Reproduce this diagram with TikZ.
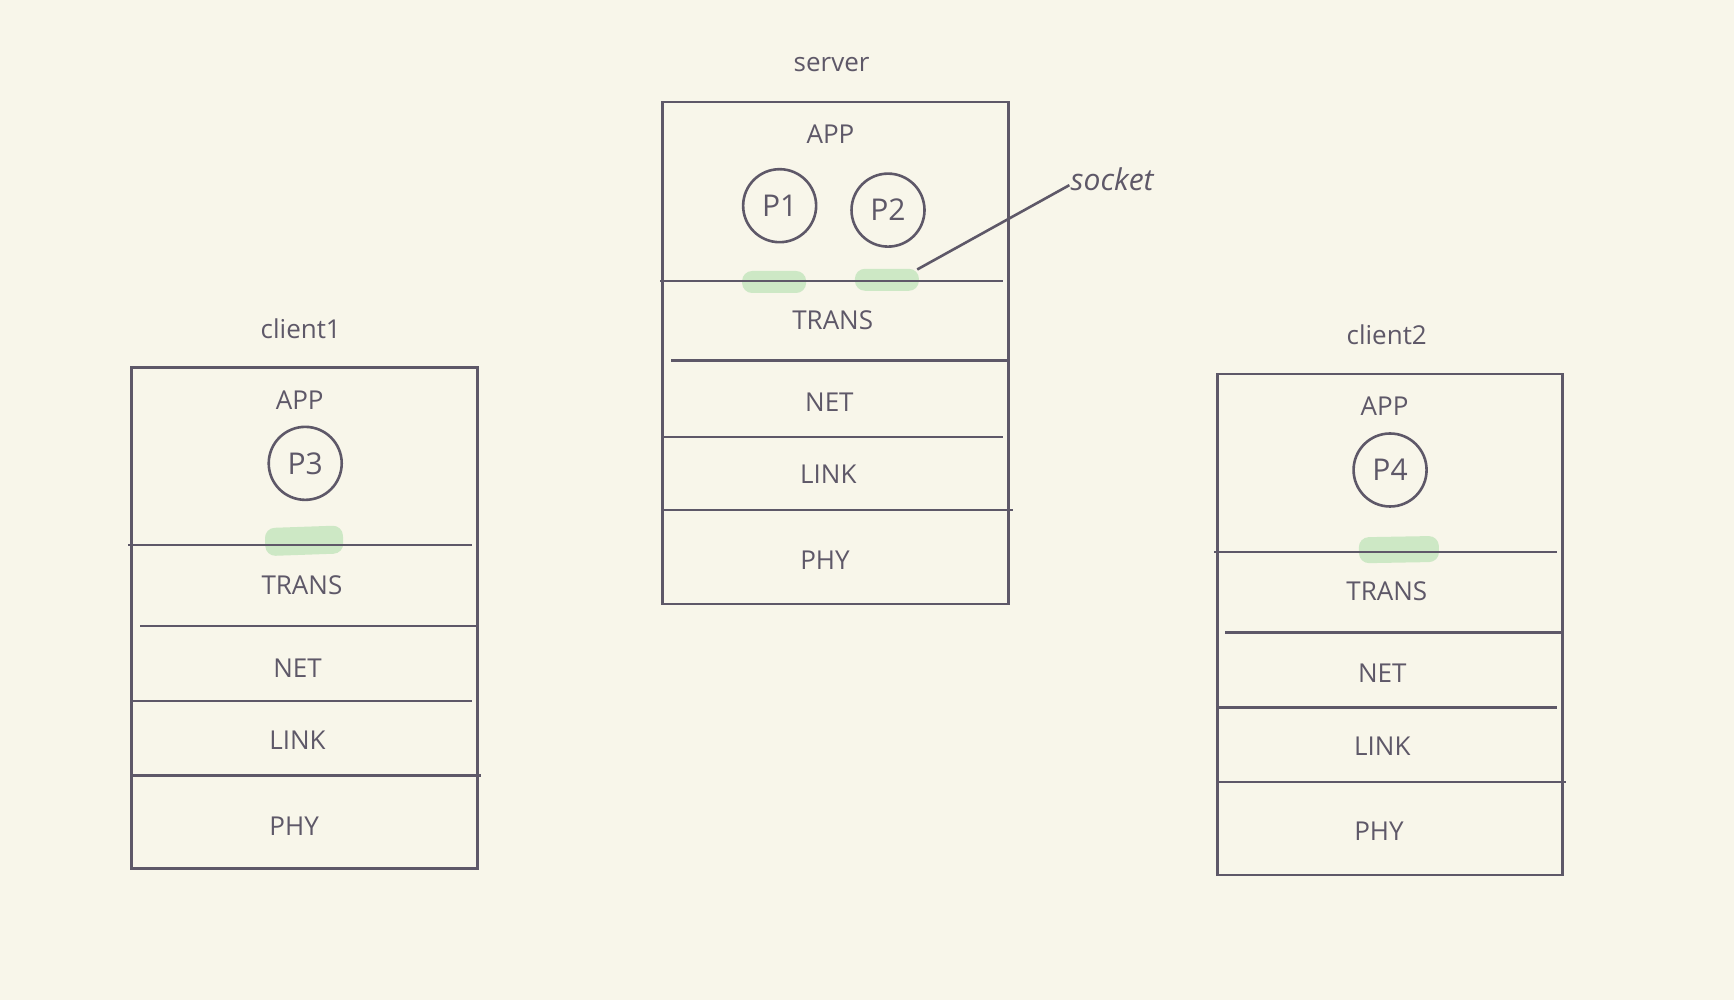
\documentclass[tikz,border=0pt]{standalone}
\usepackage{fontspec}
\setmainfont{Open Sans}
\definecolor{bg}{HTML}{F8F6EA}
\definecolor{ink}{HTML}{5E5868}
\definecolor{hl}{HTML}{CDE8C5}
\begin{document}
\begin{tikzpicture}[x=1.1059pt,y=-1.1059pt,
  line width=2.6pt, draw=ink,
  lbl/.style={font=\fontsize{26}{28}\selectfont, text=ink, inner sep=0pt},
  title/.style={font=\fontsize{26}{28}\selectfont, text=ink, inner sep=0pt},
  proc/.style={circle, draw=ink, line width=2.6pt, minimum size=73pt, inner sep=0pt,
    font=\fontsize{30}{32}\selectfont, text=ink},
  sock/.style={rounded corners=10pt, fill=hl, draw=none, minimum width=64pt, minimum height=22pt, inner sep=0pt},
  stackbox/.style={draw=ink, line width=2.6pt, rectangle, inner sep=0pt, anchor=north west},
  sep/.style={draw=ink, line width=2.6pt}
]
\fill[bg] (0,0) rectangle (1568,904);
\useasboundingbox (0,0) rectangle (1568,904);

% ---------- server ----------
\node[sock] (s1) at (700,255) {};
\node[sock] (s2) at (802,253) {};
\node[stackbox, minimum width=346pt, minimum height=502pt] (srv) at (598,91) {};
\node[title] (srvt) at (752,58) {server};
\node[lbl] (sapp) at (751,121) {APP};
\node[proc] (p1) at (705,186) {P1};
\node[proc] (p2) at (803,190) {P2};
\draw[sep] (597,254) -- (907,254);
\node[lbl] (strans) at (753,290) {TRANS};
\draw[sep] (607,326) -- (913,326);
\node[lbl] (snet) at (750,364) {NET};
\draw[sep] (598,395) -- (907,395);
\node[lbl] (slink) at (749,429) {LINK};
\draw[sep] (598,461) -- (916,461);
\node[lbl] (sphy) at (746,507) {PHY};
\node[title, font=\fontsize{30}{32}\selectfont\itshape, anchor=west] (socket) at (967,162) {socket};
\draw[ink, line width=2.6pt] (s2.north east) ++(-3pt,-2pt) coordinate (sa) -- ([yshift=-6pt]socket.west);

% ---------- client1 ----------
\node[sock, minimum width=78pt, minimum height=28pt, rotate=2] (s3) at (275,489) {};
\node[stackbox, minimum width=346pt, minimum height=501pt] (c1) at (118,331) {};
\node[title] (c1t) at (272,297) {client1};
\node[lbl] (c1app) at (271,362) {APP};
\node[proc] (p3) at (276,419) {P3};
\draw[sep] (116,493) -- (427,493);
\node[lbl] (c1trans) at (273,529) {TRANS};
\draw[sep] (127,566) -- (431,566);
\node[lbl] (c1net) at (269,604) {NET};
\draw[sep] (118,634) -- (427,634);
\node[lbl] (c1link) at (269,669) {LINK};
\draw[sep] (118,701) -- (435,701);
\node[lbl] (c1phy) at (266,747) {PHY};

% ---------- client2 ----------
\node[sock, minimum width=80pt, minimum height=26pt, rotate=1] (s4) at (1265,497) {};
\node[stackbox, minimum width=345pt, minimum height=501pt] (c2) at (1100,337) {};
\node[title] (c2t) at (1254,303) {client2};
\node[lbl] (c2app) at (1252,367) {APP};
\node[proc] (p4) at (1257,425) {P4};
\draw[sep] (1098,499) -- (1408,499);
\node[lbl] (c2trans) at (1254,535) {TRANS};
\draw[sep] (1108,572) -- (1413,572);
\node[lbl] (c2net) at (1250,609) {NET};
\draw[sep] (1100,640) -- (1408,640);
\node[lbl] (c2link) at (1250,675) {LINK};
\draw[sep] (1100,707) -- (1416,707);
\node[lbl] (c2phy) at (1247,752) {PHY};
\end{tikzpicture}
\end{document}
